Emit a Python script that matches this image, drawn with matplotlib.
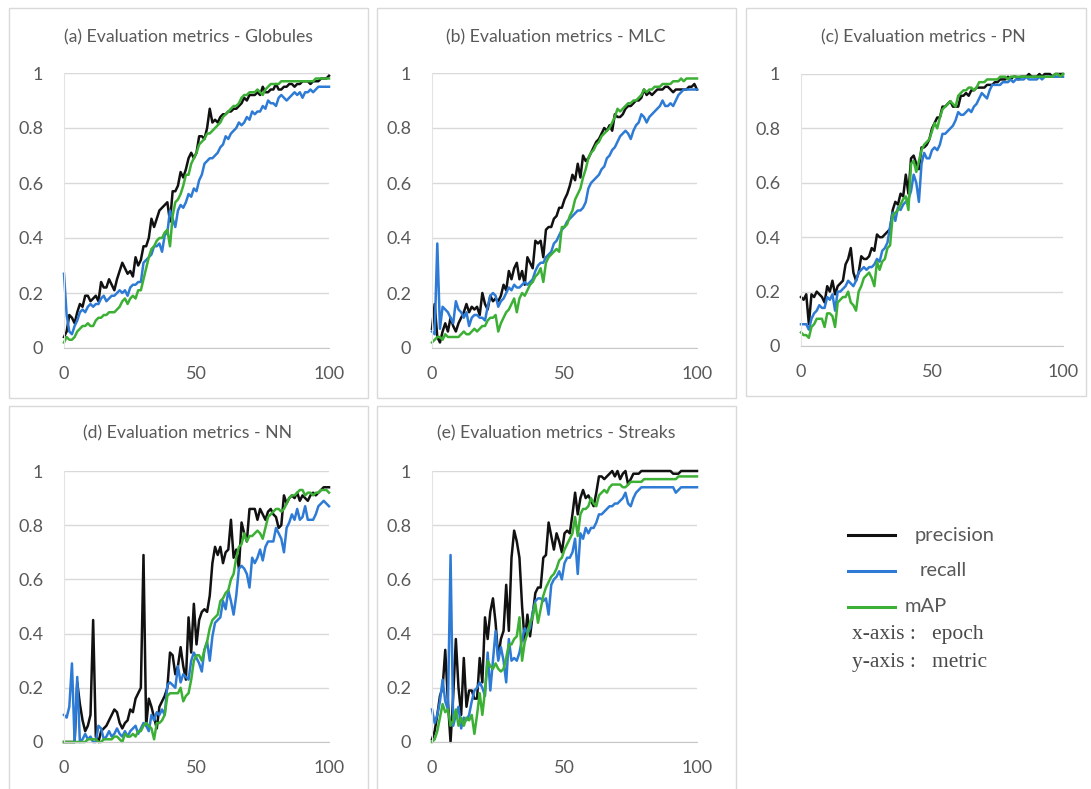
import matplotlib
matplotlib.use('Agg')
import matplotlib.pyplot as plt
from matplotlib.patches import Rectangle
from matplotlib.lines import Line2D

W, H = 1091, 789
epochs = list(range(101))

a_prec = [0.04,0.06,0.12,0.11,0.09,0.13,0.16,0.15,0.19,0.19,0.17,0.18,0.19,0.17,0.24,0.22,0.22,0.25,0.23,0.21,
          0.25,0.28,0.31,0.29,0.27,0.28,0.26,0.33,0.30,0.32,0.37,0.37,0.40,0.47,0.44,0.47,0.50,0.51,0.52,0.53,
          0.46,0.57,0.57,0.59,0.64,0.62,0.65,0.69,0.71,0.69,0.71,0.77,0.77,0.76,0.80,0.87,0.82,0.83,0.82,0.84,
          0.85,0.85,0.86,0.86,0.87,0.87,0.88,0.89,0.91,0.90,0.92,0.92,0.92,0.93,0.92,0.95,0.93,0.93,0.94,0.94,
          0.96,0.94,0.94,0.95,0.95,0.96,0.96,0.95,0.96,0.96,0.97,0.97,0.97,0.96,0.97,0.97,0.97,0.98,0.98,0.98,0.99]
a_rec = [0.27,0.12,0.06,0.05,0.08,0.10,0.13,0.14,0.13,0.15,0.16,0.15,0.16,0.16,0.18,0.19,0.17,0.18,0.19,0.19,
         0.20,0.21,0.20,0.21,0.19,0.22,0.23,0.23,0.24,0.24,0.31,0.32,0.33,0.34,0.37,0.37,0.38,0.35,0.41,0.42,
         0.50,0.47,0.44,0.50,0.52,0.51,0.53,0.56,0.55,0.58,0.57,0.61,0.63,0.67,0.68,0.69,0.69,0.70,0.71,0.73,
         0.74,0.77,0.76,0.78,0.79,0.80,0.82,0.81,0.82,0.84,0.83,0.86,0.85,0.86,0.86,0.88,0.87,0.90,0.89,0.89,
         0.88,0.91,0.92,0.91,0.90,0.91,0.92,0.93,0.92,0.93,0.91,0.93,0.93,0.94,0.93,0.94,0.95,0.95,0.95,0.95,0.95]
a_map = [0.02,0.04,0.03,0.03,0.04,0.06,0.07,0.08,0.08,0.09,0.08,0.08,0.10,0.11,0.11,0.12,0.12,0.13,0.13,0.13,
         0.14,0.15,0.17,0.18,0.16,0.18,0.19,0.18,0.21,0.21,0.25,0.29,0.33,0.36,0.37,0.39,0.40,0.40,0.42,0.43,
         0.37,0.48,0.53,0.54,0.56,0.59,0.63,0.63,0.67,0.69,0.71,0.74,0.75,0.76,0.78,0.78,0.79,0.80,0.81,0.82,
         0.84,0.85,0.86,0.87,0.88,0.88,0.89,0.91,0.92,0.92,0.93,0.93,0.93,0.94,0.93,0.92,0.94,0.95,0.96,0.96,
         0.96,0.96,0.97,0.97,0.97,0.97,0.97,0.97,0.97,0.97,0.97,0.97,0.97,0.97,0.97,0.98,0.98,0.98,0.98,0.98,0.98]

b_prec = [0.07,0.16,0.04,0.02,0.06,0.09,0.06,0.11,0.08,0.06,0.09,0.11,0.13,0.16,0.13,0.15,0.14,0.15,0.12,0.20,
          0.16,0.14,0.19,0.17,0.18,0.17,0.19,0.23,0.21,0.28,0.25,0.29,0.31,0.25,0.28,0.23,0.33,0.31,0.29,0.39,
          0.38,0.39,0.33,0.43,0.44,0.44,0.47,0.48,0.51,0.51,0.54,0.56,0.59,0.63,0.61,0.67,0.62,0.70,0.68,0.69,
          0.71,0.73,0.75,0.76,0.78,0.80,0.79,0.81,0.79,0.85,0.84,0.84,0.85,0.87,0.88,0.88,0.89,0.90,0.90,0.91,
          0.94,0.92,0.93,0.92,0.93,0.94,0.94,0.94,0.95,0.95,0.94,0.93,0.94,0.94,0.94,0.94,0.94,0.95,0.95,0.96,0.94]
b_rec = [0.06,0.05,0.38,0.07,0.15,0.14,0.13,0.11,0.09,0.17,0.14,0.13,0.11,0.13,0.08,0.11,0.12,0.12,0.11,0.11,
         0.10,0.15,0.19,0.20,0.19,0.15,0.17,0.18,0.20,0.22,0.21,0.23,0.22,0.22,0.23,0.24,0.23,0.24,0.25,0.28,
         0.30,0.31,0.31,0.33,0.34,0.35,0.38,0.39,0.41,0.43,0.44,0.46,0.47,0.48,0.49,0.50,0.50,0.51,0.53,0.58,
         0.60,0.61,0.62,0.63,0.65,0.66,0.69,0.70,0.72,0.73,0.75,0.77,0.78,0.79,0.78,0.76,0.79,0.81,0.82,0.85,
         0.84,0.82,0.84,0.85,0.86,0.87,0.88,0.90,0.88,0.88,0.89,0.88,0.90,0.92,0.93,0.94,0.94,0.94,0.94,0.94,0.94]
b_map = [0.02,0.03,0.04,0.04,0.03,0.05,0.04,0.04,0.04,0.04,0.04,0.05,0.06,0.05,0.05,0.06,0.07,0.06,0.07,0.08,
         0.08,0.10,0.11,0.11,0.12,0.06,0.09,0.11,0.13,0.14,0.16,0.18,0.13,0.18,0.20,0.19,0.21,0.23,0.24,0.26,
         0.27,0.29,0.24,0.31,0.33,0.34,0.35,0.36,0.35,0.44,0.44,0.45,0.48,0.50,0.54,0.56,0.58,0.62,0.65,0.69,
         0.71,0.72,0.74,0.75,0.77,0.78,0.79,0.80,0.82,0.84,0.87,0.86,0.87,0.88,0.89,0.89,0.90,0.90,0.91,0.92,
         0.94,0.93,0.94,0.94,0.95,0.95,0.95,0.96,0.96,0.96,0.96,0.97,0.97,0.97,0.98,0.97,0.98,0.98,0.98,0.98,0.98]

c_prec = [0.18,0.17,0.19,0.08,0.19,0.18,0.20,0.19,0.18,0.16,0.22,0.20,0.24,0.19,0.22,0.23,0.24,0.30,0.32,0.36,
          0.27,0.24,0.27,0.33,0.32,0.32,0.33,0.36,0.35,0.41,0.40,0.40,0.41,0.42,0.43,0.50,0.53,0.52,0.56,0.55,
          0.63,0.56,0.69,0.70,0.67,0.65,0.73,0.73,0.74,0.76,0.80,0.82,0.84,0.84,0.88,0.88,0.89,0.90,0.88,0.88,
          0.88,0.92,0.92,0.93,0.92,0.94,0.94,0.95,0.95,0.95,0.95,0.96,0.96,0.96,0.97,0.97,0.98,0.98,0.98,0.99,
          0.98,0.99,0.99,0.98,0.99,0.99,0.99,1.00,0.99,0.99,0.99,1.00,0.99,1.00,1.00,1.00,0.99,1.00,1.00,1.00,1.00]
c_rec = [0.08,0.08,0.08,0.06,0.10,0.12,0.13,0.15,0.14,0.14,0.18,0.17,0.19,0.13,0.20,0.20,0.21,0.22,0.24,0.23,
         0.22,0.24,0.27,0.28,0.29,0.28,0.29,0.29,0.30,0.32,0.31,0.35,0.36,0.38,0.44,0.49,0.46,0.51,0.50,0.52,
         0.53,0.54,0.57,0.63,0.60,0.53,0.67,0.71,0.69,0.69,0.72,0.73,0.72,0.74,0.78,0.78,0.79,0.80,0.81,0.83,
         0.86,0.85,0.85,0.86,0.87,0.86,0.88,0.89,0.91,0.93,0.92,0.91,0.94,0.96,0.96,0.96,0.96,0.97,0.97,0.97,
         0.98,0.97,0.98,0.98,0.98,0.98,0.99,0.98,0.98,0.98,0.98,0.99,0.98,0.99,0.99,0.99,0.99,0.99,0.99,0.99,0.99]
c_map = [0.05,0.04,0.04,0.03,0.07,0.08,0.10,0.10,0.10,0.07,0.12,0.12,0.11,0.07,0.16,0.17,0.18,0.18,0.20,0.16,
         0.15,0.13,0.20,0.22,0.25,0.26,0.27,0.25,0.22,0.31,0.28,0.31,0.32,0.36,0.37,0.48,0.49,0.50,0.52,0.54,
         0.55,0.50,0.67,0.68,0.64,0.68,0.72,0.74,0.75,0.76,0.79,0.82,0.80,0.84,0.87,0.88,0.89,0.90,0.89,0.88,
         0.92,0.93,0.94,0.94,0.95,0.95,0.94,0.95,0.97,0.97,0.97,0.98,0.98,0.98,0.98,0.98,0.99,0.99,0.99,0.98,
         0.99,0.99,0.99,0.99,0.99,0.99,0.99,0.99,0.99,0.99,0.99,0.99,0.99,0.99,0.99,0.99,0.99,1.00,1.00,0.99,1.00]

d_prec = [0.00,0.00,0.00,0.00,0.00,0.22,0.14,0.08,0.04,0.06,0.10,0.45,0.02,0.00,0.04,0.05,0.06,0.08,0.10,0.12,
          0.11,0.07,0.05,0.07,0.08,0.12,0.11,0.16,0.18,0.20,0.69,0.06,0.16,0.13,0.09,0.05,0.13,0.15,0.17,0.20,
          0.33,0.32,0.25,0.28,0.35,0.28,0.23,0.46,0.33,0.51,0.36,0.45,0.48,0.49,0.48,0.54,0.66,0.72,0.69,0.72,
          0.66,0.70,0.71,0.82,0.68,0.71,0.64,0.81,0.77,0.74,0.86,0.86,0.86,0.82,0.86,0.84,0.82,0.85,0.86,0.84,
          0.83,0.79,0.80,0.91,0.88,0.90,0.91,0.90,0.92,0.89,0.91,0.90,0.89,0.91,0.92,0.91,0.92,0.93,0.94,0.94,0.94]
d_rec = [0.10,0.09,0.13,0.29,0.00,0.24,0.00,0.01,0.03,0.01,0.02,0.00,0.00,0.06,0.05,0.01,0.02,0.04,0.02,0.03,
         0.05,0.03,0.02,0.04,0.02,0.04,0.05,0.06,0.03,0.05,0.07,0.06,0.04,0.10,0.08,0.11,0.10,0.12,0.10,0.21,
         0.22,0.21,0.20,0.28,0.22,0.25,0.24,0.23,0.30,0.33,0.31,0.29,0.26,0.34,0.37,0.30,0.39,0.44,0.45,0.46,
         0.52,0.49,0.56,0.52,0.47,0.54,0.64,0.65,0.64,0.62,0.57,0.68,0.66,0.68,0.71,0.67,0.72,0.74,0.74,0.74,
         0.79,0.77,0.75,0.70,0.79,0.81,0.84,0.82,0.86,0.82,0.83,0.87,0.82,0.82,0.82,0.84,0.87,0.88,0.89,0.88,0.87]
d_map = [0.00,0.00,0.00,0.00,0.00,0.00,0.00,0.00,0.00,0.01,0.01,0.01,0.01,0.00,0.00,0.01,0.01,0.01,0.01,0.02,
         0.02,0.01,0.00,0.03,0.02,0.02,0.03,0.02,0.04,0.04,0.06,0.07,0.06,0.05,0.01,0.07,0.07,0.08,0.10,0.17,
         0.18,0.18,0.18,0.18,0.20,0.15,0.17,0.18,0.23,0.30,0.32,0.32,0.30,0.34,0.37,0.42,0.45,0.46,0.47,0.52,
         0.53,0.55,0.56,0.60,0.62,0.68,0.72,0.73,0.77,0.74,0.76,0.76,0.77,0.78,0.77,0.75,0.79,0.83,0.84,0.85,
         0.86,0.86,0.85,0.86,0.88,0.90,0.91,0.91,0.92,0.93,0.93,0.91,0.92,0.92,0.91,0.92,0.92,0.93,0.93,0.93,0.92]

e_prec = [0.01,0.04,0.10,0.17,0.20,0.34,0.15,0.00,0.17,0.38,0.20,0.10,0.31,0.13,0.19,0.19,0.16,0.16,0.31,0.22,
          0.46,0.38,0.48,0.53,0.44,0.31,0.38,0.41,0.58,0.41,0.68,0.78,0.74,0.68,0.50,0.37,0.47,0.39,0.47,0.55,
          0.57,0.57,0.68,0.69,0.81,0.76,0.71,0.77,0.74,0.70,0.77,0.78,0.77,0.84,0.92,0.84,0.90,0.93,0.90,0.91,
          0.89,0.87,0.92,0.98,0.98,0.97,0.98,0.99,1.00,0.98,1.00,0.97,0.99,1.00,0.95,0.97,0.99,0.99,0.99,1.00,
          1.00,1.00,1.00,1.00,1.00,1.00,1.00,1.00,1.00,1.00,1.00,0.99,0.99,0.99,1.00,1.00,1.00,1.00,1.00,1.00,1.00]
e_rec = [0.12,0.07,0.10,0.15,0.23,0.15,0.12,0.69,0.06,0.10,0.13,0.05,0.09,0.08,0.10,0.15,0.19,0.20,0.22,0.20,
         0.17,0.33,0.19,0.30,0.41,0.30,0.35,0.30,0.22,0.38,0.30,0.31,0.30,0.33,0.38,0.42,0.40,0.42,0.48,0.52,
         0.53,0.53,0.52,0.53,0.47,0.58,0.60,0.61,0.63,0.60,0.66,0.68,0.68,0.70,0.75,0.62,0.77,0.75,0.79,0.77,
         0.79,0.79,0.81,0.84,0.84,0.85,0.86,0.87,0.87,0.88,0.88,0.89,0.90,0.92,0.88,0.87,0.90,0.92,0.93,0.94,
         0.94,0.94,0.94,0.94,0.94,0.94,0.94,0.94,0.94,0.94,0.94,0.94,0.92,0.93,0.94,0.94,0.94,0.94,0.94,0.94,0.94]
e_map = [0.00,0.01,0.04,0.09,0.14,0.11,0.12,0.06,0.08,0.12,0.06,0.09,0.06,0.09,0.08,0.10,0.03,0.10,0.18,0.10,
         0.19,0.30,0.28,0.27,0.29,0.27,0.26,0.27,0.31,0.36,0.36,0.38,0.39,0.46,0.30,0.37,0.40,0.44,0.46,0.51,
         0.44,0.49,0.54,0.57,0.59,0.61,0.62,0.64,0.67,0.68,0.71,0.73,0.75,0.77,0.83,0.76,0.84,0.86,0.86,0.87,
         0.90,0.88,0.87,0.91,0.92,0.93,0.92,0.94,0.95,0.95,0.95,0.95,0.94,0.94,0.95,0.96,0.96,0.96,0.96,0.96,
         0.97,0.97,0.97,0.97,0.97,0.97,0.97,0.97,0.97,0.97,0.97,0.97,0.97,0.98,0.98,0.98,0.98,0.98,0.98,0.98,0.98]

titles = ['(a) Evaluation metrics - Globules', '(b) Evaluation metrics - MLC',
          '(c) Evaluation metrics - PN', '(d) Evaluation metrics - NN',
          '(e) Evaluation metrics - Streaks']
series_names = ['precision', 'recall', 'mAP']
x_ticks = [0, 50, 100]
y_ticks = [0, 0.2, 0.4, 0.6, 0.8, 1]
y_labels = ['0', '0.2', '0.4', '0.6', '0.8', '1']

plt.rcParams['font.family'] = ['Lato', 'DejaVu Sans']
TXT = '#595959'
COLORS = ['#111111', '#2e7bd6', '#3cb034']

fig = plt.figure(figsize=(W / 100, H / 100), dpi=100)
fig.patch.set_facecolor('white')

def fx(x):
    return x / W

def fy(y):
    return 1 - y / H

boxes = [(9, 8, 368, 398), (377, 8, 736, 398), (746, 8, 1086, 396),
         (9, 406, 368, 800), (377, 406, 736, 800)]
for (x0, y0, x1, y1) in boxes:
    fig.patches.append(Rectangle((fx(x0), fy(y1)), (x1 - x0) / W, (y1 - y0) / H,
                                 transform=fig.transFigure, fill=False,
                                 edgecolor='#d9d9d9', lw=1.0))

rects = [(64, 73, 329, 348), (432, 73, 697, 348), (801, 74, 1063, 346),
         (64, 471, 329, 742), (432, 471, 697, 742)]
title_pos = [(188, 37), (556, 37), (923, 37), (188, 433), (556, 433)]
data = [(a_prec, a_rec, a_map), (b_prec, b_rec, b_map), (c_prec, c_rec, c_map),
        (d_prec, d_rec, d_map), (e_prec, e_rec, e_map)]

for rect, tp, title, ser in zip(rects, title_pos, titles, data):
    l, t, r, b = rect
    ax = fig.add_axes([l / W, 1 - b / H, (r - l) / W, (b - t) / H])
    for vals, col in zip(ser, COLORS):
        ax.plot(epochs, vals, color=col, lw=1.8, clip_on=False, solid_joinstyle='round')
    ax.set_xlim(0, 100)
    ax.set_ylim(0, 1)
    ax.set_xticks(x_ticks)
    ax.set_xticklabels([str(v) for v in x_ticks])
    ax.set_yticks(y_ticks)
    ax.set_yticklabels(y_labels)
    ax.grid(axis='y', color='#d9d9d9', lw=1.0)
    ax.set_axisbelow(True)
    for s in ['top', 'right']:
        ax.spines[s].set_visible(False)
    ax.spines['left'].set_color('#e3e3e3')
    ax.spines['bottom'].set_color('#c8c8c8')
    ax.tick_params(length=0, labelsize=13, labelcolor=TXT)
    ax.tick_params(axis='y', pad=15)
    ax.tick_params(axis='x', pad=13)
    fig.text(fx(tp[0]), fy(tp[1]), title, ha='center', va='center',
             fontsize=12.7, color=TXT)

# legend
leg_y = [535, 571, 607]
leg_tx = [915, 920, 905]
for name, col, yy, tx in zip(series_names, COLORS, leg_y, leg_tx):
    fig.add_artist(Line2D([fx(848), fx(895)], [fy(yy), fy(yy)], transform=fig.transFigure,
                          color=col, lw=2.2))
    fig.text(fx(tx), fy(yy), name, ha='left', va='center', fontsize=14.5, color=TXT)

fig.text(fx(852), fy(635), 'x-axis :   epoch', ha='left', va='center', fontsize=15.5,
         color='#4a4a4a', family=['Liberation Serif', 'DejaVu Serif'])
fig.text(fx(852), fy(662), 'y-axis :   metric', ha='left', va='center', fontsize=15.5,
         color='#4a4a4a', family=['Liberation Serif', 'DejaVu Serif'])

fig.savefig('out.png', dpi=100)
